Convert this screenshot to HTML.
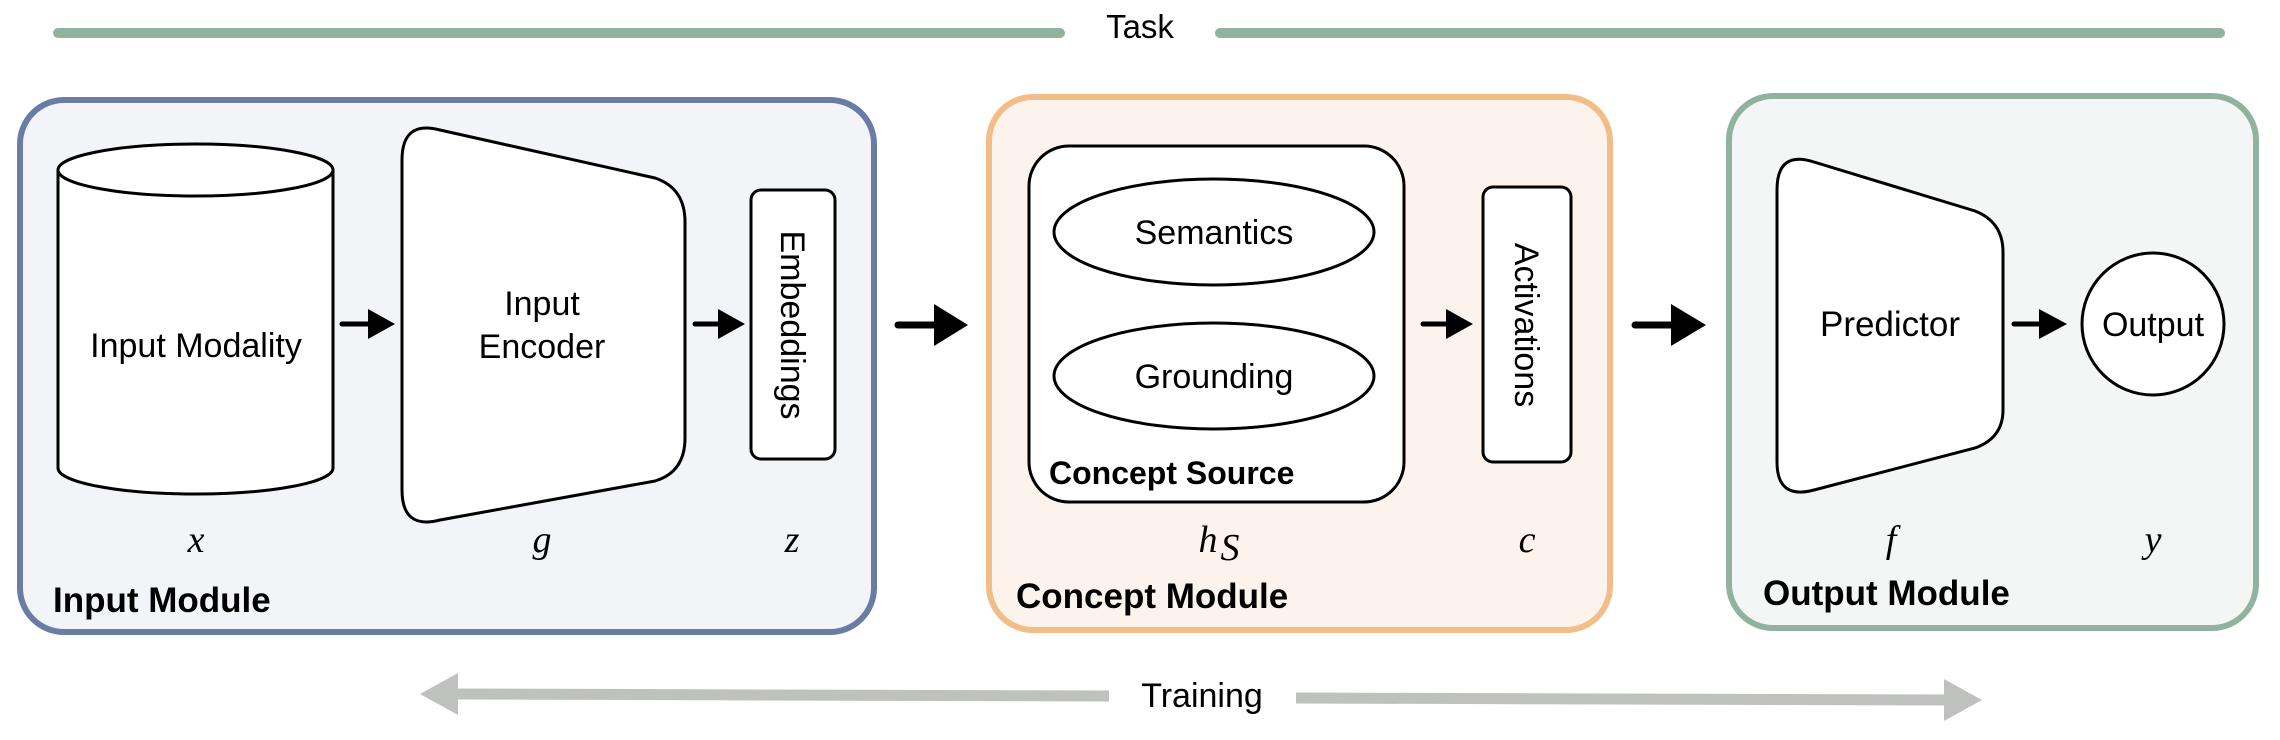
<!DOCTYPE html>
<html><head><meta charset="utf-8"><style>
html,body{margin:0;padding:0;background:#fff;}
svg{display:block;}
text{font-family:"Liberation Sans",Arial,sans-serif;}
.m{font-family:"Liberation Serif","DejaVu Serif",serif;font-style:italic;font-size:38px;}
</style></head><body>
<svg width="2280" height="740" viewBox="0 0 2280 740" xmlns="http://www.w3.org/2000/svg">
<!-- Task line -->
<line x1="58" y1="33" x2="1060" y2="33" stroke="#8fb39f" stroke-width="10" stroke-linecap="round"/>
<line x1="1220" y1="33" x2="2220" y2="33" stroke="#8fb39f" stroke-width="10" stroke-linecap="round"/>
<text x="1140" y="38" font-size="33" text-anchor="middle">Task</text>

<!-- Modules -->
<rect x="20" y="100" width="854" height="532" rx="44" fill="#f2f4f8" stroke="#6a7ca4" stroke-width="6"/>
<rect x="989" y="97" width="621" height="533" rx="44" fill="#fcf4ec" stroke="#f2bd86" stroke-width="6"/>
<rect x="1729" y="96" width="527" height="532" rx="44" fill="#f4f6f5" stroke="#8fb39f" stroke-width="6"/>

<!-- Cylinder -->
<path d="M58 170 L58 468 A137.5 26 0 0 0 333 468 L333 170" fill="#fff" stroke="#000" stroke-width="3"/>
<ellipse cx="195.5" cy="170" rx="137.5" ry="26" fill="#fff" stroke="#000" stroke-width="3"/>
<text x="196" y="357" font-size="34" text-anchor="middle">Input Modality</text>

<!-- arrow 1 -->
<line x1="342" y1="324" x2="372" y2="324" stroke="#000" stroke-width="5" stroke-linecap="round"/>
<polygon points="368,309 395,324 368,339" fill="#000"/>

<!-- Encoder -->
<path d="M402 160 Q402 120 440 130 L655 178 Q685 188 685 222 L685 438 Q685 472 655 481 L440 520 Q402 530 402 490 Z" fill="#fff" stroke="#000" stroke-width="3"/>
<text x="542" y="315" font-size="34" text-anchor="middle">Input</text>
<text x="542" y="358" font-size="34" text-anchor="middle">Encoder</text>

<!-- arrow 2 -->
<line x1="695" y1="324" x2="722" y2="324" stroke="#000" stroke-width="5" stroke-linecap="round"/>
<polygon points="718,309 745,324 718,339" fill="#000"/>

<!-- Embeddings -->
<rect x="751" y="190" width="84" height="269" rx="10" fill="#fff" stroke="#000" stroke-width="3"/>
<text transform="translate(793 325) rotate(90)" font-size="34" text-anchor="middle" dy="12">Embeddings</text>

<text class="m" x="196" y="552" text-anchor="middle">x</text>
<text class="m" x="542" y="552" text-anchor="middle">g</text>
<text class="m" x="792" y="552" text-anchor="middle">z</text>
<text x="53" y="612" font-size="35" font-weight="bold">Input Module</text>

<!-- big arrow -->
<line x1="898" y1="325" x2="940" y2="325" stroke="#000" stroke-width="7" stroke-linecap="round"/>
<polygon points="934,304 968,325 934,346" fill="#000"/>

<!-- Concept source -->
<rect x="1029" y="146" width="375" height="356" rx="40" fill="#fff" stroke="#000" stroke-width="3"/>
<ellipse cx="1214" cy="232" rx="160" ry="53" fill="#fff" stroke="#000" stroke-width="3"/>
<text x="1214" y="244" font-size="34" text-anchor="middle">Semantics</text>
<ellipse cx="1214" cy="376" rx="160" ry="53" fill="#fff" stroke="#000" stroke-width="3"/>
<text x="1214" y="388" font-size="34" text-anchor="middle">Grounding</text>
<text x="1049" y="484" font-size="32" font-weight="bold">Concept Source</text>

<line x1="1423" y1="324" x2="1450" y2="324" stroke="#000" stroke-width="5" stroke-linecap="round"/>
<polygon points="1446,309 1473,324 1446,339" fill="#000"/>

<rect x="1483" y="187" width="88" height="275" rx="10" fill="#fff" stroke="#000" stroke-width="3"/>
<text transform="translate(1527 325) rotate(90)" font-size="34" text-anchor="middle" dy="12">Activations</text>

<text class="m" x="1208" y="552" text-anchor="middle">h</text>
<text class="m" x="1230" y="560" font-size="27" text-anchor="middle">S</text>
<text class="m" x="1527" y="552" text-anchor="middle">c</text>
<text x="1016" y="608" font-size="35" font-weight="bold">Concept Module</text>

<line x1="1635" y1="325" x2="1677" y2="325" stroke="#000" stroke-width="7" stroke-linecap="round"/>
<polygon points="1671,304 1706,325 1671,346" fill="#000"/>

<!-- Predictor -->
<path d="M1777 190 Q1777 150 1814 162 L1975 211 Q2003 222 2003 252 L2003 410 Q2003 438 1975 448 L1814 490 Q1777 500 1777 462 Z" fill="#fff" stroke="#000" stroke-width="3"/>
<text x="1890" y="336" font-size="35" text-anchor="middle">Predictor</text>

<line x1="2014" y1="324" x2="2042" y2="324" stroke="#000" stroke-width="5" stroke-linecap="round"/>
<polygon points="2039,309 2067,324 2039,339" fill="#000"/>

<circle cx="2153" cy="324" r="71" fill="#fff" stroke="#000" stroke-width="3"/>
<text x="2153" y="336" font-size="34" text-anchor="middle">Output</text>

<text class="m" x="1891" y="552" text-anchor="middle">f</text>
<text class="m" x="2153" y="552" text-anchor="middle">y</text>
<text x="1763" y="605" font-size="35" font-weight="bold">Output Module</text>

<!-- Training -->
<line x1="455" y1="694" x2="1109" y2="696" stroke="#bfc1bf" stroke-width="11"/>
<polygon points="420,694 458,673 458,715" fill="#bfc1bf"/>
<line x1="1296" y1="698" x2="1945" y2="700" stroke="#bfc1bf" stroke-width="11"/>
<polygon points="1982,700 1944,679 1944,721" fill="#bfc1bf"/>
<text x="1202" y="707" font-size="34" text-anchor="middle">Training</text>
</svg>
</body></html>
